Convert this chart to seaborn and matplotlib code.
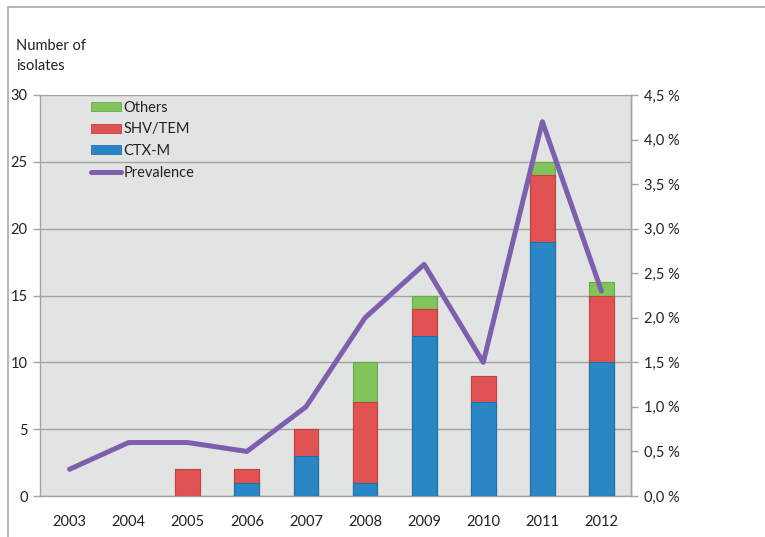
import numpy as np
import pandas as pd
import matplotlib
matplotlib.use("Agg")
import matplotlib.pyplot as plt
from matplotlib.lines import Line2D
from matplotlib.patches import Patch
from matplotlib.ticker import FuncFormatter, MultipleLocator, FixedLocator
import seaborn as sns

years = ["2003", "2004", "2005", "2006", "2007", "2008", "2009", "2010", "2011", "2012"]
ctx_m = [0, 0, 0, 1, 3, 1, 12, 7, 19, 10]
shv_tem = [0, 0, 2, 1, 2, 6, 2, 2, 5, 5]
others = [0, 0, 0, 0, 0, 3, 1, 0, 1, 1]
prevalence = [0.3, 0.6, 0.6, 0.5, 1.0, 2.0, 2.6, 1.5, 4.2, 2.3]

c_ctx = "#2a86c4"
c_shv = "#e05352"
c_oth = "#82c45c"
c_prev = "#7e5fae"
bg = "#e2e3e3"
grid_c = "#a3a3a3"
txt_c = "#222222"

sns.set_theme(style="white")
plt.rcParams["font.family"] = ["Lato", "DejaVu Sans"]

df = pd.DataFrame({
    "year": years,
    "CTX-M": ctx_m,
    "SHV/TEM": shv_tem,
    "Others": others,
    "prev": prevalence,
})
df["lvl2"] = df["CTX-M"] + df["SHV/TEM"]
df["lvl3"] = df["lvl2"] + df["Others"]

fig = plt.figure(figsize=(7.65, 5.37), dpi=100)
ax = fig.add_axes([40 / 765, 1 - 496 / 537, 591 / 765, 401 / 537])
ax.set_facecolor(bg)

# stacked bars: draw cumulative totals from the top segment down
bw = 0.42
for col, colr, edge in [("lvl3", c_oth, "#6aa948"),
                        ("lvl2", c_shv, "#c04040"),
                        ("CTX-M", c_ctx, "#2070a8")]:
    sns.barplot(data=df, x="year", y=col, color=colr, width=bw, ax=ax,
                edgecolor=edge, linewidth=0.8, saturation=1, zorder=3)

# empty segments would otherwise leave a stray outline on the baseline
for p in list(ax.patches):
    if p.get_height() == 0:
        p.remove()

ax.set_ylim(0, 30)
ax.set_xlim(-0.5, 9.5)
ax.yaxis.set_major_locator(MultipleLocator(5))
ax.grid(axis="y", color=grid_c, linewidth=1.0, zorder=0)
ax.set_axisbelow(True)
ax.set_xlabel("")
ax.set_ylabel("")
for s in ["left", "bottom", "right"]:
    ax.spines[s].set_color(grid_c)
    ax.spines[s].set_linewidth(1.0)
ax.spines["top"].set_visible(False)

ax.xaxis.set_minor_locator(FixedLocator(np.arange(-0.5, 10, 1)))
ax.tick_params(axis="x", which="major", length=0, pad=14, labelsize=10.5, labelcolor=txt_c)
ax.tick_params(axis="x", which="minor", length=5, width=1, color=grid_c, direction="out")
ax.tick_params(axis="y", which="major", length=5, width=1, color=grid_c, direction="out",
               left=True, pad=4, labelsize=10.5, labelcolor=txt_c)

# prevalence line on a secondary axis
ax2 = ax.twinx()
sns.lineplot(x=np.arange(len(years)), y=prevalence, ax=ax2, color=c_prev,
             linewidth=3.6, solid_capstyle="round", zorder=5)
ax2.set_ylim(0, 4.5)
ax2.yaxis.set_major_locator(MultipleLocator(0.5))
ax2.yaxis.set_major_formatter(FuncFormatter(lambda v, p: f"{v:.1f}".replace(".", ",") + " %"))
ax2.tick_params(axis="y", which="major", length=5, width=1, color=grid_c, direction="out",
                right=True, pad=4, labelsize=10.5, labelcolor=txt_c)
for s in ["left", "bottom", "top"]:
    ax2.spines[s].set_visible(False)
ax2.spines["right"].set_color(grid_c)
ax2.spines["right"].set_linewidth(1.0)
ax2.set_ylabel("")
ax2.set_xlim(-0.5, 9.5)

handles = [
    Patch(facecolor=c_oth, edgecolor="#6aa948", linewidth=0.6, label="Others"),
    Patch(facecolor=c_shv, edgecolor="#c04040", linewidth=0.6, label="SHV/TEM"),
    Patch(facecolor=c_ctx, edgecolor="#2070a8", linewidth=0.6, label="CTX-M"),
    Line2D([0], [0], color=c_prev, linewidth=3.6, solid_capstyle="round", label="Prevalence"),
]
ax2.legend(handles=handles, loc="upper left", bbox_to_anchor=(0.077, 1.0), frameon=False,
           fontsize=10.5, handlelength=2.0, handleheight=0.55, handletextpad=0.2,
           labelspacing=0.52, borderaxespad=0, labelcolor=txt_c)

fig.text(16 / 765, 1 - 56 / 537, "Number of\nisolates", fontsize=10.5, color=txt_c,
         ha="left", va="center", linespacing=1.6)

# outer frame lines along the top and left edges
fig.add_artist(Line2D([8 / 765, 1.0], [1 - 7 / 537, 1 - 7 / 537], transform=fig.transFigure,
                      color="#a8a8a8", linewidth=1.2))
fig.add_artist(Line2D([8 / 765, 8 / 765], [0, 1 - 7 / 537], transform=fig.transFigure,
                      color="#a8a8a8", linewidth=1.2))

fig.savefig("out.png", dpi=100, facecolor="white")
